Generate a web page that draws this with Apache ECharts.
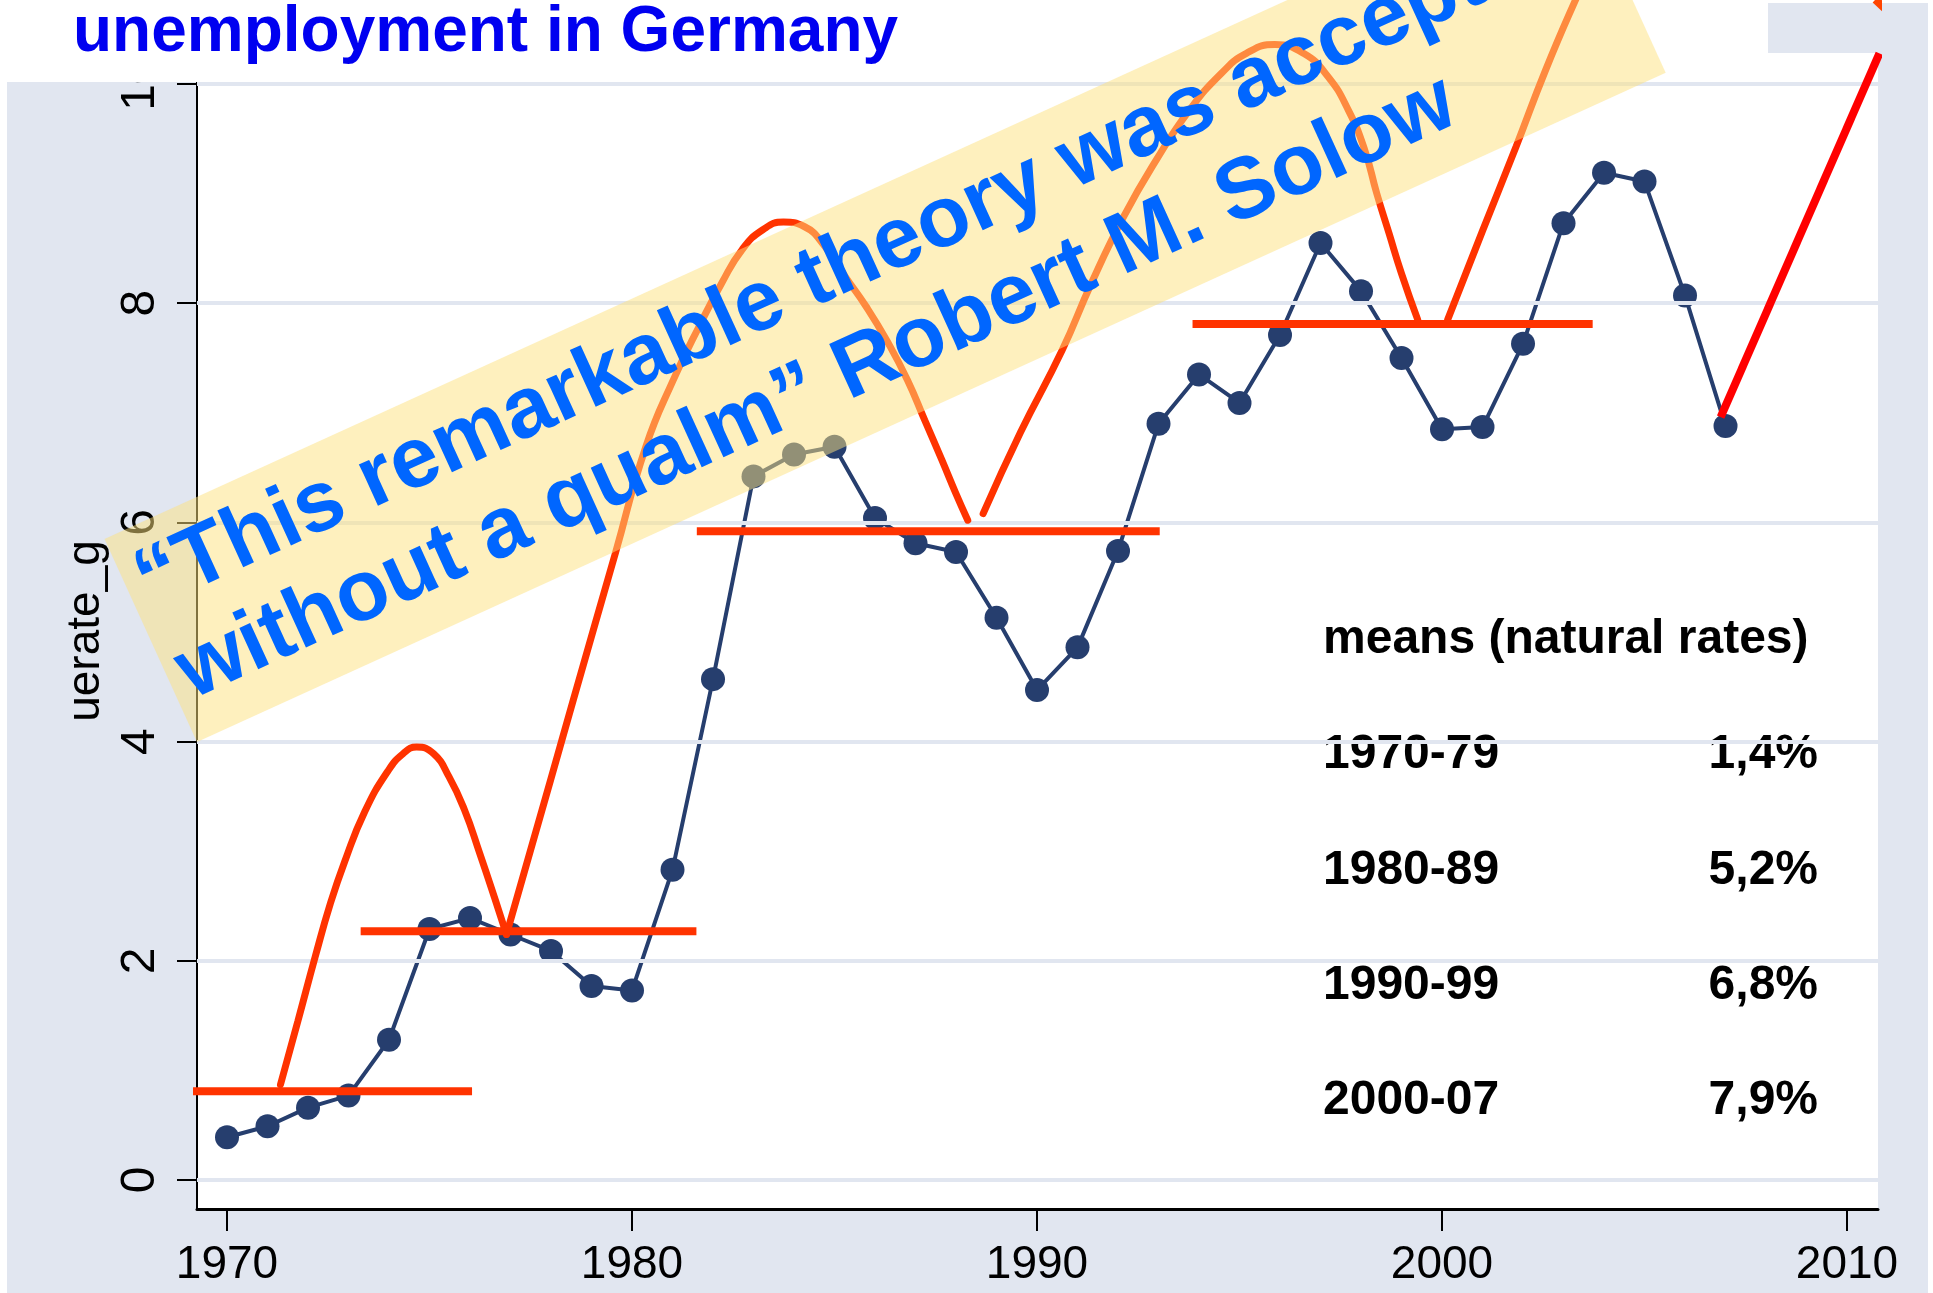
<!DOCTYPE html>
<html><head><meta charset="utf-8">
<script src="https://cdn.jsdelivr.net/npm/echarts@6/dist/echarts.min.js"></script>
<style>html,body{margin:0;padding:0;background:#fff}#c{width:1933px;height:1293px}</style>
</head><body><div id="c"></div>
<script>
// ---- data ----
const years = [1970,1971,1972,1973,1974,1975,1976,1977,1978,1979,1980,1981,1982,1983,1984,1985,1986,1987,1988,1989,1990,1991,1992,1993,1994,1995,1996,1997,1998,1999,2000,2001,2002,2003,2004,2005,2006,2007];
const uerate = [0.39,0.49,0.66,0.77,1.28,2.29,2.39,2.24,2.09,1.77,1.73,2.83,4.57,6.42,6.62,6.69,6.04,5.81,5.73,5.13,4.47,4.86,5.74,6.90,7.35,7.09,7.71,8.55,8.11,7.50,6.85,6.87,7.63,8.73,9.19,9.11,8.07,6.88];
const xTicks = [1970,1980,1990,2000,2010];
const yTicks = [0,2,4,6,8,10];
// horizontal "natural rate" bars
const meanStart = [1968.96,1973.30,1981.60,1993.84];
const meanEnd   = [1976.05,1981.59,1993.03,2003.72];
const meanLevel = [0.81,2.27,5.92,7.81];
// hand-drawn hysteresis curves [year, value]
const curveA1 = [[1971.32,0.87],[1971.75,1.45],[1972.18,2.04],[1972.55,2.52],[1972.90,2.90],[1973.40,3.36],[1973.97,3.73],[1974.35,3.89],[1974.68,3.95],[1975.10,3.89],[1975.48,3.68],[1975.86,3.38],[1976.24,2.98],[1976.62,2.56],[1976.90,2.24]];
const curveA2 = [[1976.90,2.24],[1977.99,3.65],[1978.55,4.38],[1979.59,5.72],[1980.34,6.69],[1981.02,7.30],[1981.70,7.82],[1982.21,8.18],[1982.72,8.49],[1983.23,8.67],[1983.74,8.74],[1984.25,8.70],[1984.76,8.52],[1985.27,8.24],[1985.78,7.97],[1986.29,7.66],[1986.80,7.30],[1987.23,6.93],[1987.65,6.57],[1987.99,6.27],[1988.29,6.02]];
const curveB = [[1988.67,6.08],[1989.59,6.82],[1990.62,7.57],[1991.34,8.18],[1992.14,8.79],[1992.95,9.31],[1993.76,9.76],[1994.56,10.10],[1995.17,10.28],[1995.87,10.36],[1996.58,10.28],[1997.18,10.07],[1997.69,9.76],[1998.09,9.40],[1998.39,9.00],[1998.69,8.64],[1999.00,8.27],[1999.40,7.85]];
const curveC = [[2000.14,7.85],[2001.00,8.66],[2001.83,9.43],[2002.55,10.12],[2003.30,10.77],[2003.60,11.00]];
const curveD = [[2006.88,6.96],[2010.80,10.28]];
const curveE = [[2010.70,10.77],[2011.25,10.58]];
const meanPeriods = ['1970-79','1980-89','1990-99','2000-07'];
const meanValues = ['1,4%','5,2%','6,8%','7,9%'];

// ---- chart ----
const NAVY = '#263e6e', RED = '#ff3300';
const FONT = '"Liberation Sans", Arial, Helvetica, sans-serif';
const chart = echarts.init(document.getElementById('c'), null, {renderer:'canvas', width:1933, height:1293});

const series = [];
series.push({type:'line', data:[], silent:true, z:1,
  markLine:{silent:true, symbol:['none','none'], label:{show:false}, animation:false,
    lineStyle:{color:'#e1e6f0', width:4, type:'solid'},
    emphasis:{disabled:true},
    data: yTicks.map(v => ({yAxis:v}))}});
series.push({type:'line', data: years.map((y,i)=>[y, uerate[i]]), symbol:'circle', symbolSize:24,
  lineStyle:{color:NAVY, width:4}, itemStyle:{color:NAVY}, z:3, clip:false});
for (let i=0;i<meanLevel.length;i++){
  series.push({type:'line', data:[[meanStart[i],meanLevel[i]],[meanEnd[i],meanLevel[i]]], symbol:'none',
    lineStyle:{color:RED, width:8}, z:10, clip:false, silent:true});
}
[curveA1, curveA2, curveB, curveC].forEach(c => {
  series.push({type:'line', data:c, symbol:'none', smooth:0.5, clip:false, z:10, silent:true,
    lineStyle:{color:RED, width:7, cap:'round'}});
});
series.push({type:'line', data:curveD, symbol:'none', clip:false, z:10, silent:true, lineStyle:{color:'#ff0000', width:8}});
series.push({type:'line', data:curveE, symbol:'none', clip:false, z:10, silent:true, lineStyle:{color:'#ff4400', width:8}});

const graphics = [
  {type:'rect', z:5, shape:{x:0,y:0,width:1933,height:3}, style:{fill:'#fff'}},
  {type:'rect', z:5, shape:{x:0,y:0,width:7,height:1293}, style:{fill:'#fff'}},
  {type:'rect', z:5, shape:{x:1928,y:0,width:5,height:1293}, style:{fill:'#fff'}},
  {type:'rect', z:5, shape:{x:7,y:0,width:1761,height:82}, style:{fill:'#fff'}},
  {type:'text', z:6, x:73, y:33, style:{text:'unemployment in Germany', fill:'#0000f0',
    font:'bold 64px '+FONT, align:'left', verticalAlign:'middle', textAlign:'left', textVerticalAlign:'middle'}},
  {type:'text', z:4, x:1323, y:640, style:{text:'means (natural rates)', fill:'#000',
    font:'bold 48px '+FONT, align:'left', verticalAlign:'middle', textAlign:'left', textVerticalAlign:'middle'}}
];
const rowMid = [755, 871, 986, 1101];
meanPeriods.forEach((p,i) => {
  graphics.push({type:'text', z:4, x:1323, y:rowMid[i], style:{text:p, fill:'#000', font:'bold 48px '+FONT,
    align:'left', verticalAlign:'middle', textAlign:'left', textVerticalAlign:'middle'}});
  graphics.push({type:'text', z:4, x:1818, y:rowMid[i], style:{text:meanValues[i], fill:'#000', font:'bold 48px '+FONT,
    align:'right', verticalAlign:'middle', textAlign:'right', textVerticalAlign:'middle'}});
});
graphics.push({type:'group', x:197, y:742, rotation:24.5*Math.PI/180, z:20, children:[
  {type:'rect', z:20, shape:{x:0,y:-223,width:1614,height:223}, style:{fill:'rgba(253,225,125,0.5)'}},
  {type:'text', z:21, x:13, y:-163.5, style:{text:'\u201CThis remarkable theory was accepted', fill:'#0066ff',
    font:'bold 86px '+FONT, align:'left', verticalAlign:'middle', textAlign:'left', textVerticalAlign:'middle'}},
  {type:'text', z:21, x:13, y:-64.5, style:{text:'without a qualm\u201D Robert M. Solow', fill:'#0066ff',
    font:'bold 86px '+FONT, align:'left', verticalAlign:'middle', textAlign:'left', textVerticalAlign:'middle'}}
]});

chart.setOption({
  animation:false,
  backgroundColor:'#e1e6f0',
  grid:{left:197, top:53, width:1681, height:1156, show:true, backgroundColor:'#ffffff', borderWidth:0, containLabel:false, outerBoundsMode:'none'},
  xAxis:{type:'value', min:1969.259, max:2010.765,
    axisLine:{show:true, onZero:false, lineStyle:{color:'#000', width:3}},
    axisTick:{show:true, customValues:xTicks, length:22, lineStyle:{color:'#000', width:2}},
    axisLabel:{show:true, customValues:xTicks, margin:33, color:'#000', fontSize:46,
      fontFamily:'"Liberation Sans Narrow", "Liberation Sans", Arial, sans-serif',
      formatter: v => String(Math.round(v))},
    splitLine:{show:false}},
  yAxis:{type:'value', min:-0.2646, max:10.283,
    name:'uerate_g', nameLocation:'middle', nameGap:86, nameRotate:90,
    nameTextStyle:{color:'#000', fontSize:46, fontFamily:FONT},
    axisLine:{show:true, onZero:false, lineStyle:{color:'#000', width:2}},
    axisTick:{show:true, customValues:yTicks, length:20, lineStyle:{color:'#000', width:2}},
    axisLabel:{show:true, customValues:yTicks, rotate:90, margin:32, color:'#000', fontSize:48, fontFamily:FONT,
      formatter: v => String(Math.round(v))},
    splitLine:{show:false}},
  series: series,
  graphic: graphics
});
</script></body></html>
